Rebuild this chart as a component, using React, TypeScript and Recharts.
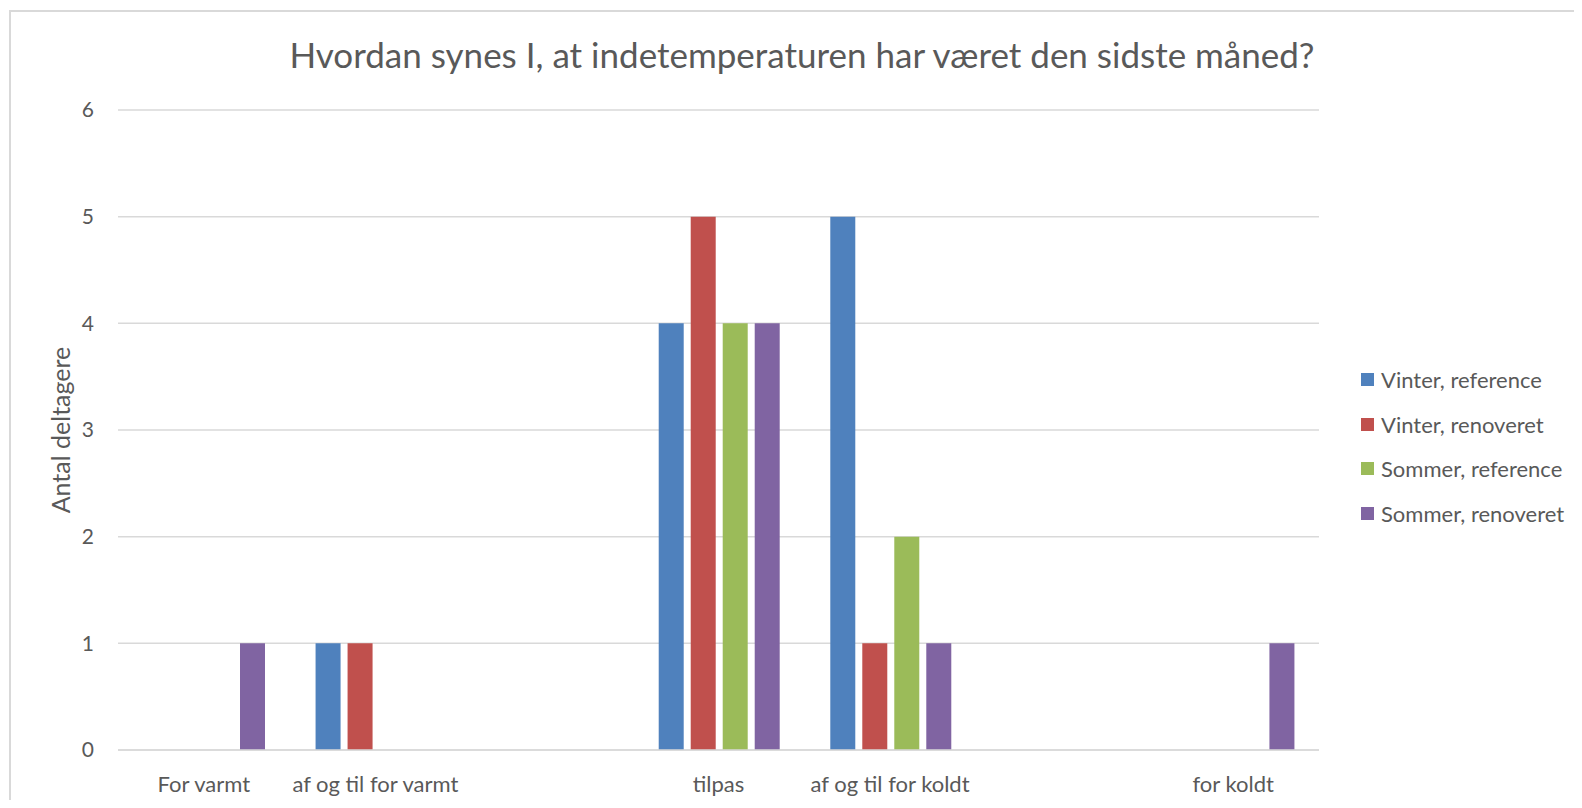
import React from "react";
import {
  BarChart,
  Bar,
  XAxis,
  YAxis,
  CartesianGrid,
  Legend,
  Label,
} from "recharts";

const categories = [
  "For varmt",
  "af og til for varmt",
  "",
  "tilpas",
  "af og til for koldt",
  "",
  "for koldt",
];
const vinterReference = [0, 1, 0, 4, 5, 0, 0];
const vinterRenoveret = [0, 1, 0, 5, 1, 0, 0];
const sommerReference = [0, 0, 0, 4, 2, 0, 0];
const sommerRenoveret = [1, 0, 0, 4, 1, 0, 1];
const yTicks = [0, 1, 2, 3, 4, 5, 6];

const series = [
  { key: "vr", name: "Vinter, reference", color: "#4F81BD" },
  { key: "vn", name: "Vinter, renoveret", color: "#C0504D" },
  { key: "sr", name: "Sommer, reference", color: "#9BBB59" },
  { key: "sn", name: "Sommer, renoveret", color: "#8064A2" },
];

const data = categories.map((c, i) => ({
  cat: c,
  vr: vinterReference[i],
  vn: vinterRenoveret[i],
  sr: sommerReference[i],
  sn: sommerRenoveret[i],
}));

const FONT = "Lato, 'Open Sans', sans-serif";
const TXT = "#595959";
const GRID = "#D9D9D9";

const renderLegend = () => (
  <div style={{ fontFamily: FONT, fontSize: 22, color: TXT }}>
    {series.map((s) => (
      <div
        key={s.key}
        style={{ height: 44.7, display: "flex", alignItems: "center" }}
      >
        <span
          style={{
            display: "inline-block",
            width: 13,
            height: 13,
            background: s.color,
            marginRight: 7,
          }}
        />
        <span style={{ whiteSpace: "nowrap" }}>{s.name}</span>
      </div>
    ))}
  </div>
);

const App = () => {
  return (
    <div
      style={{
        position: "relative",
        width: 1574,
        height: 792,
        overflow: "hidden",
        background: "#fff",
      }}
    >
      <div
        style={{
          position: "absolute",
          left: 1,
          top: 2,
          width: 1700,
          height: 900,
          border: "2px solid #D9D9D9",
        }}
      />
      <div
        style={{
          position: "absolute",
          left: 0,
          width: 1588,
          top: 25,
          textAlign: "center",
          fontFamily: FONT,
          fontSize: 35,
          color: TXT,
          whiteSpace: "nowrap",
        }}
      >
        Hvordan synes I, at indetemperaturen har været den sidste måned?
      </div>
      <div style={{ position: "absolute", left: 0, top: 0 }}>
        <BarChart
          width={1574}
          height={792}
          data={data}
          margin={{ top: 102, right: 43, bottom: 20, left: 0 }}
          barCategoryGap={26}
          barGap={7}
        >
          <CartesianGrid
            vertical={false}
            stroke={GRID}
            strokeWidth={1.5}
          />
          <XAxis
            dataKey="cat"
            height={30}
            axisLine={{ stroke: GRID, strokeWidth: 1.5 }}
            tickLine={false}
            tickSize={0}
            tickMargin={26}
            interval={0}
            tick={{ fill: TXT, fontSize: 22, fontFamily: FONT }}
          />
          <YAxis
            width={110}
            domain={[0, 6]}
            ticks={yTicks}
            axisLine={false}
            tickLine={false}
            tickSize={0}
            tickMargin={24}
            tick={{ fill: TXT, fontSize: 21, fontFamily: FONT }}
          >
            <Label
              value="Antal deltagere"
              angle={-90}
              position="center"
              dx={-2}
              style={{ fill: TXT, fontSize: 25, fontFamily: FONT }}
            />
          </YAxis>
          <Legend
            layout="vertical"
            align="right"
            verticalAlign="middle"
            content={renderLegend}
            wrapperStyle={{ position: "absolute", left: 1353, top: 349, width: 220 }}
          />
          {series.map((s) => (
            <Bar
              key={s.key}
              dataKey={s.key}
              name={s.name}
              fill={s.color}
              isAnimationActive={false}
            />
          ))}
        </BarChart>
      </div>
    </div>
  );
};

export default App;
